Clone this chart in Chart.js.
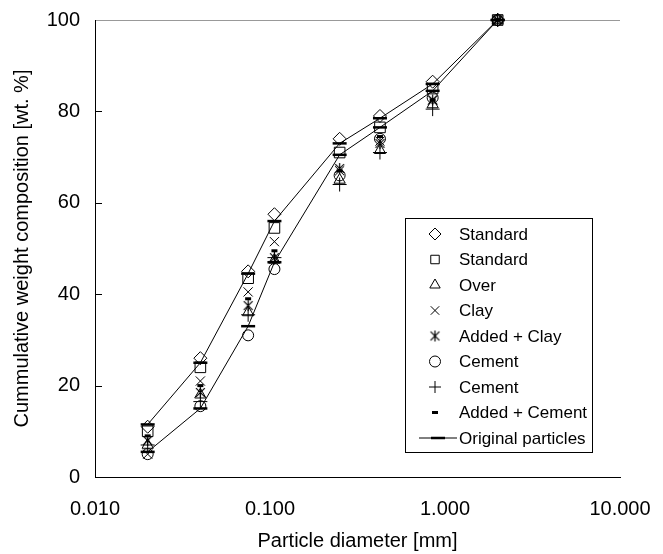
<!DOCTYPE html>
<html>
<head>
<meta charset="utf-8">
<script src="https://cdn.jsdelivr.net/npm/chart.js@4/dist/chart.umd.min.js"></script>
<style>
html,body{margin:0;padding:0;background:#fff;}
#wrap{width:663px;height:554px;position:relative;}
</style>
</head>
<body>
<div id="wrap"><canvas id="c" width="663" height="554"></canvas></div>
<script>
// ---- data ----
const particleSizes = [0.02, 0.04, 0.075, 0.106, 0.25, 0.425, 0.85, 2.0];
const standardDiamond = [11, 26, 45, 57.5, 74, 79, 86.5, 100];
const standardSquare = [10, 24, 43.5, 54.5, 71, 76.5, 85, 100];
const overTriangle = [7, 18, 36, 47.5, 65, 71.5, 81.5, 100];
const clayCross = [5, 21, 40.5, 51.5, 67, 73.5, 82.5, 100];
const addedClayStar = [8, 18.5, 37.5, 48, 67.5, 73, 82.5, 100];
const cementCircle = [5, 15.5, 31, 45.5, 66, 74, 83, 100];
const cementPlus = [7, 16.5, 35.5, 48, 64, 71, 80.5, 100];
const addedCementDash = [9, 20, 39, 49.5, 67, 74.5, 82.5, 100];
const originalUpper = [11.5, 25, 44.5, 56, 73, 78.5, 86, 100];
const originalLower = [5.5, 15, 33, 47, 70.5, 76.5, 84.5, 100];
const xTickValues = [0.01, 0.1, 1, 10];
const yTickValues = [0, 20, 40, 60, 80, 100];
const legendLabels = ['Standard', 'Standard', 'Over', 'Clay', 'Added + Clay', 'Cement', 'Cement', 'Added + Cement', 'Original particles'];

const FONT = '"Liberation Sans", Arial, sans-serif';

// asterisk marker (vertical + X)
function makeAsterisk(size) {
  const cv = document.createElement('canvas');
  cv.width = size; cv.height = size;
  const g = cv.getContext('2d');
  g.strokeStyle = '#000'; g.lineWidth = 1.2;
  const c = size / 2, r = size / 2 - 1;
  g.beginPath();
  g.moveTo(c, c - r); g.lineTo(c, c + r);
  g.moveTo(c - r * 0.8, c - r * 0.8); g.lineTo(c + r * 0.8, c + r * 0.8);
  g.moveTo(c + r * 0.8, c - r * 0.8); g.lineTo(c - r * 0.8, c + r * 0.8);
  g.stroke();
  return cv;
}
const asterisk = makeAsterisk(13);

function pts(vals) { return particleSizes.map((x, i) => ({x: x, y: vals[i]})); }

function markerSet(label, vals, style, radius, bw) {
  return {
    label: label, data: pts(vals), showLine: false,
    pointStyle: style, pointRadius: radius, pointHoverRadius: radius,
    pointBorderWidth: bw, borderColor: '#000', backgroundColor: 'rgba(255,255,255,0)',
    pointBackgroundColor: 'rgba(255,255,255,0)', pointBorderColor: '#000', clip: false
  };
}

const datasets = [
  markerSet(legendLabels[0], standardDiamond, 'rectRot', 6.5, 1),
  markerSet(legendLabels[1], standardSquare, 'rect', 7.5, 1),
  markerSet(legendLabels[2], overTriangle, 'triangle', 6.5, 1),
  markerSet(legendLabels[3], clayCross, 'crossRot', 6.5, 1),
  markerSet(legendLabels[4], addedClayStar, asterisk, 6.5, 1),
  markerSet(legendLabels[5], cementCircle, 'circle', 5.5, 1),
  markerSet(legendLabels[6], cementPlus, 'cross', 7, 1),
  markerSet(legendLabels[7], addedCementDash, 'line', 3, 3),
  Object.assign(markerSet(legendLabels[8], originalUpper, 'line', 7, 2.5), {showLine: true, borderWidth: 1, tension: 0}),
  Object.assign(markerSet('', originalLower, 'line', 7, 2.5), {showLine: true, borderWidth: 1, tension: 0})
];

const legendPlugin = {
  id: 'boxLegend',
  afterDatasetsDraw(chart) {
    const ctx = chart.ctx;
    const x0 = 405, y0 = 218, w = 187, h = 234;
    ctx.save();
    ctx.fillStyle = '#fff';
    ctx.fillRect(x0, y0, w, h);
    ctx.strokeStyle = '#000'; ctx.lineWidth = 1;
    ctx.strokeRect(x0 + 0.5, y0 + 0.5, w, h);
    ctx.font = '17px ' + FONT;
    ctx.textBaseline = 'middle';
    const rowH = 25.5, firstY = 234, mx = 435, tx = 459;
    for (let i = 0; i < 9; i++) {
      const ds = chart.data.datasets[i];
      const y = firstY + i * rowH;
      ctx.strokeStyle = '#000';
      ctx.fillStyle = 'rgba(0,0,0,0)';
      if (i === 8) {
        ctx.lineWidth = 1;
        ctx.beginPath(); ctx.moveTo(419, y); ctx.lineTo(457, y); ctx.stroke();
      }
      ctx.lineWidth = ds.pointBorderWidth;
      Chart.helpers.drawPoint(ctx, {pointStyle: ds.pointStyle, radius: i === 8 ? 7 : Math.min(ds.pointRadius, 6), borderWidth: ds.pointBorderWidth, rotation: 0}, i === 8 ? 438 : mx, y);
      ctx.fillStyle = '#000';
      ctx.fillText(legendLabels[i], tx, y + 1);
    }
    ctx.restore();
  }
};

const innerTicks = {
  id: 'innerTicks',
  afterDraw(chart) {
    const ctx = chart.ctx, ys = chart.scales.y, a = chart.chartArea;
    ctx.save();
    ctx.strokeStyle = '#000'; ctx.lineWidth = 1;
    yTickValues.forEach(v => {
      if (v === 0 || v === 100) return;
      const py = Math.round(ys.getPixelForValue(v)) + 0.5;
      ctx.beginPath(); ctx.moveTo(a.left, py); ctx.lineTo(a.left + 7, py); ctx.stroke();
    });
    ctx.restore();
  }
};

const chart = new Chart(document.getElementById('c'), {
  type: 'scatter',
  data: {datasets: datasets},
  plugins: [innerTicks, legendPlugin],
  options: {
    responsive: false, animation: false,
    layout: {padding: {top: 20, right: 43, left: 0, bottom: 0}},
    plugins: {legend: {display: false}, tooltip: {enabled: false}},
    scales: {
      x: {
        type: 'logarithmic', min: 0.01, max: 10,
        afterBuildTicks(s) { s.ticks = xTickValues.map(v => ({value: v, major: true})); },
        afterFit(s) { s.height = 77; s.paddingLeft = 0; s.paddingRight = 0; },
        ticks: {color: '#000', font: {family: FONT, size: 20}, padding: 20, maxRotation: 0, autoSkip: false,
          callback: v => Number(v).toFixed(3)},
        grid: {display: false, drawTicks: false},
        border: {display: true, color: '#000', width: 1},
        title: {display: true, text: 'Particle diameter [mm]', color: '#000', font: {family: FONT, size: 20}, padding: {top: 0, bottom: 1}}
      },
      y: {
        min: 0, max: 100,
        afterBuildTicks(s) { s.ticks = yTickValues.map(v => ({value: v})); },
        afterFit(s) { s.width = 95; s.paddingTop = 0; s.paddingBottom = 0; },
        ticks: {color: '#000', font: {family: FONT, size: 20}, padding: 15},
        grid: {drawTicks: false, color: c => (c.tick && c.tick.value === 100) ? '#999' : 'rgba(0,0,0,0)'},
        border: {display: true, color: '#000', width: 1},
        title: {display: true, text: 'Cummulative weight composition [wt. %]', color: '#000', font: {family: FONT, size: 20}, padding: {top: 10, bottom: 0}}
      }
    }
  }
});
</script>
</body>
</html>
